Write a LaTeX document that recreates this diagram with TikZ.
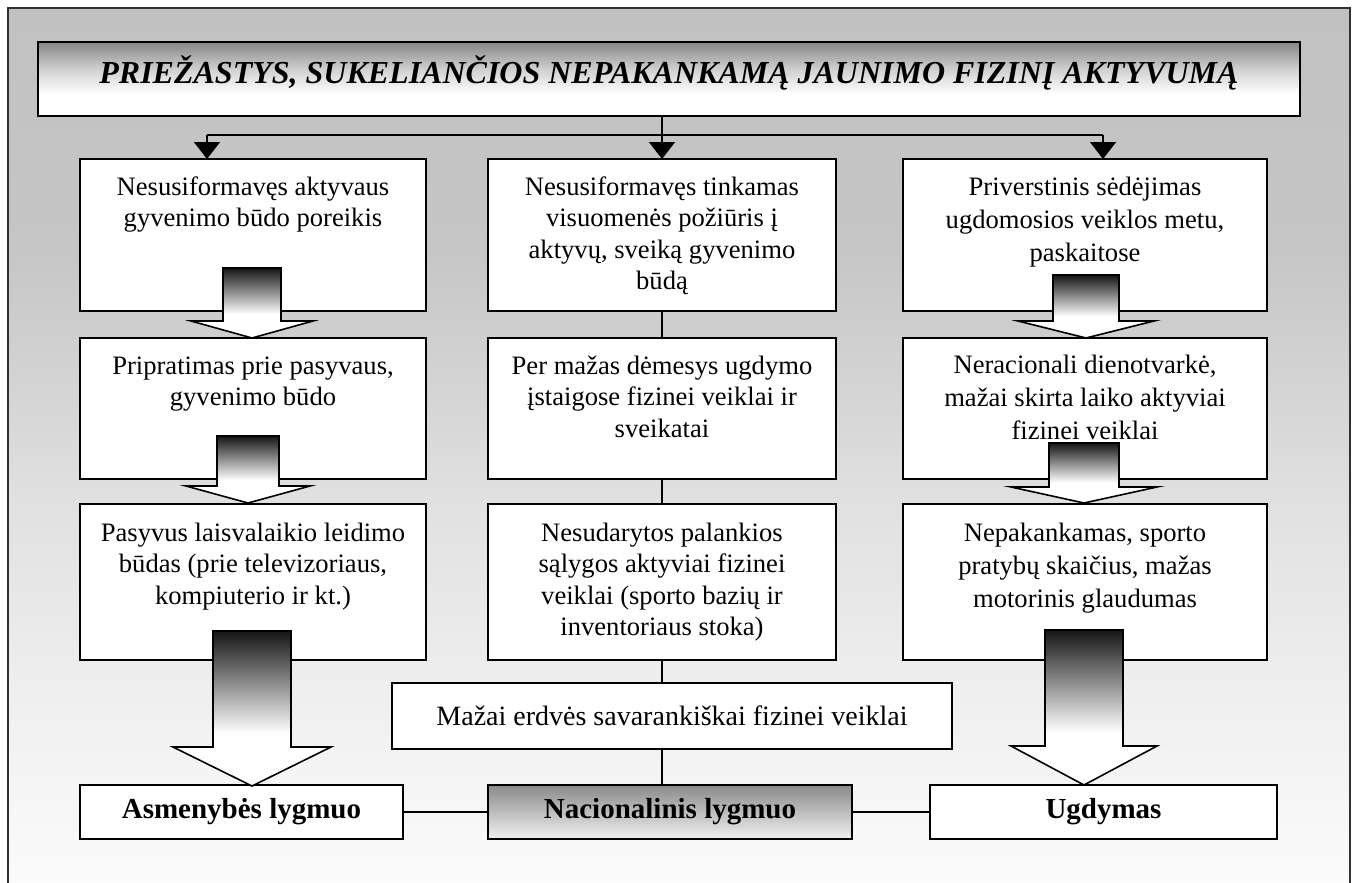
\documentclass[tikz,border=0pt]{standalone}
\usepackage{fontspec}
\setmainfont{Liberation Serif}
\usetikzlibrary{arrows.meta,calc}

% colours
\definecolor{bgA}{HTML}{C1C1C1}
\definecolor{bgB}{HTML}{C6C6C6}
\definecolor{bgC}{HTML}{E0E0E0}
\definecolor{bgD}{HTML}{F0F0F0}
\definecolor{bgE}{HTML}{FBFBFB}
\definecolor{tlA}{HTML}{858585}
\definecolor{tlB}{HTML}{CFCFCF}
\definecolor{arA}{HTML}{151515}
\definecolor{nacA}{HTML}{8A8A8A}
\definecolor{nacB}{HTML}{F0F0F0}
\definecolor{frameline}{HTML}{303030}

% gradients (0bp..100bp runs bottom to top; 25bp..75bp covers the path)
\pgfdeclareverticalshading{framebg}{100bp}{color(0bp)=(bgE); color(25bp)=(bgE); color(35bp)=(bgD); color(47bp)=(bgC); color(61bp)=(bgB); color(75bp)=(bgA); color(100bp)=(bgA)}
\pgfdeclareverticalshading{titlebg}{100bp}{color(0bp)=(white); color(25bp)=(white); color(40bp)=(white); color(57bp)=(tlB); color(75bp)=(tlA); color(100bp)=(tlA)}
\pgfdeclareverticalshading{arrowbg}{100bp}{color(0bp)=(white); color(25bp)=(white); color(42bp)=(white); color(75bp)=(arA); color(100bp)=(arA)}

% top-aligned text block: width, height, first-line strut, text
\newcommand\boxtxt[4]{\parbox[c][#2][t]{#1}{\centering\rule{0pt}{#3}#4\par}}

% block arrow: centre x, shaft half width, head half width, top y, head y, tip y
\newcommand\blockarr[6]{%
  \shadedraw[shading=arrowbg, draw=black, line width=1.6pt, line join=miter]
    ({#1-#2},#4) -- ({#1+#2},#4) -- ({#1+#2},#5) -- ({#1+#3},#5) -- (#1,#6)
    -- ({#1-#3},#5) -- ({#1-#2},#5) -- cycle;}

\tikzset{
  box/.style={draw=black, line width=1.8pt, fill=white, inner sep=0pt, outer sep=0pt,
    font=\fontsize{26.6}{31.5}\selectfont},
  rbox/.style={box, font=\fontsize{26.6}{33}\selectfont},
  lvl/.style={draw=black, line width=1.8pt, fill=white, inner sep=0pt, outer sep=0pt,
    minimum height=54pt, font=\fontsize{29}{33}\selectfont\bfseries},
  ln/.style={line width=1.8pt, black},
  arr/.style={ln, -{Triangle[width=26pt,length=17pt]}},
}

\begin{document}
\begin{tikzpicture}[x=1pt, y=-1pt]
\useasboundingbox (0,0) rectangle (1357,883);
\fill[white] (0,0) rectangle (1357,883);

% outer frame
\shade[shading=framebg] (8,8) rectangle (1350,883);
\draw[line width=1.8pt, frameline] (8,884) -- (8,8) -- (1350,8) -- (1350,884);

% heading
\node[draw=black, line width=2pt, shade, shading=titlebg, inner sep=0pt, outer sep=0pt,
      font=\fontsize{32}{37}\selectfont\bfseries\itshape] (title) at (669,79)
  {\boxtxt{1262pt}{74pt}{41pt}{PRIEŽASTYS, SUKELIANČIOS NEPAKANKAMĄ JAUNIMO FIZINĮ AKTYVUMĄ}};

% first row
\node[box] (l1) at (253,235) {\boxtxt{346pt}{152pt}{36pt}{Nesusiformavęs aktyvaus\\gyvenimo būdo poreikis}};
\node[box] (m1) at (662,235) {\boxtxt{348pt}{152pt}{36pt}{Nesusiformavęs tinkamas\\visuomenės požiūris į\\aktyvų, sveiką gyvenimo\\būdą}};
\node[rbox] (r1) at (1085,235) {\boxtxt{364pt}{152pt}{36pt}{Priverstinis sėdėjimas\\ugdomosios veiklos metu,\\paskaitose}};

% second row
\node[box] (l2) at (253,408.5) {\boxtxt{346pt}{141pt}{36pt}{Pripratimas prie pasyvaus,\\gyvenimo būdo}};
\node[box] (m2) at (662,408.5) {\boxtxt{348pt}{141pt}{36pt}{Per mažas dėmesys ugdymo\\įstaigose fizinei veiklai ir\\sveikatai}};
\node[rbox] (r2) at (1085,408.5) {\boxtxt{364pt}{141pt}{35pt}{Neracionali dienotvarkė,\\mažai skirta laiko aktyviai\\fizinei veiklai}};

% third row
\node[box] (l3) at (253,582) {\boxtxt{346pt}{156pt}{37pt}{Pasyvus laisvalaikio leidimo\\būdas (prie televizoriaus,\\kompiuterio ir kt.)}};
\node[box] (m3) at (662,582) {\boxtxt{348pt}{156pt}{37pt}{Nesudarytos palankios\\sąlygos aktyviai fizinei\\veiklai (sporto bazių ir\\inventoriaus stoka)}};
\node[rbox] (r3) at (1085,582) {\boxtxt{364pt}{156pt}{37pt}{Nepakankamas, sporto\\pratybų skaičius, mažas\\motorinis glaudumas}};

% space box
\node[box, minimum width=560pt, minimum height=66pt, font=\fontsize{28}{32}\selectfont] (mz) at (672,716) {Mažai erdvės savarankiškai fizinei veiklai};

% levels
\node[lvl, minimum width=323pt] (as) at (241.5,812) {Asmenybės lygmuo};
\node[lvl, minimum width=364pt, top color=nacA, bottom color=nacB] (nac) at (670,812) {Nacionalinis lygmuo};
\node[lvl, minimum width=347pt] (ug) at (1103.5,812) {Ugdymas};

% branching connector under the heading
\coordinate (jl) at (207,135);
\coordinate (jr) at (1103,135);
\draw[ln] (jl) -- (jr);
\draw[arr] (jl) -- (jl |- l1.north);
\draw[arr] (title.south -| m1.north) -- (m1.north);
\draw[arr] (jr) -- (jr |- r1.north);

% middle column chain
\draw[ln] (m1.south) -- (m2.north);
\draw[ln] (m2.south) -- (m3.north);
\draw[ln] (m3.south) -- (m3.south |- mz.north);
\draw[ln] (mz.south -| m3.south) -- (m3.south |- nac.north);

% links between levels
\draw[ln] (as.east) -- (nac.west);
\draw[ln] (nac.east) -- (ug.west);

% block arrows, left column
\blockarr{252}{29}{61}{268}{321}{338}
\blockarr{248}{31}{62}{436}{486}{503}
\blockarr{252}{39}{79}{631}{747}{786}

% block arrows, right column
\blockarr{1086}{33}{68}{275}{321}{338}
\blockarr{1084}{35}{73}{443}{487}{503}
\blockarr{1084}{39}{73}{630}{746}{785}
\end{tikzpicture}
\end{document}
